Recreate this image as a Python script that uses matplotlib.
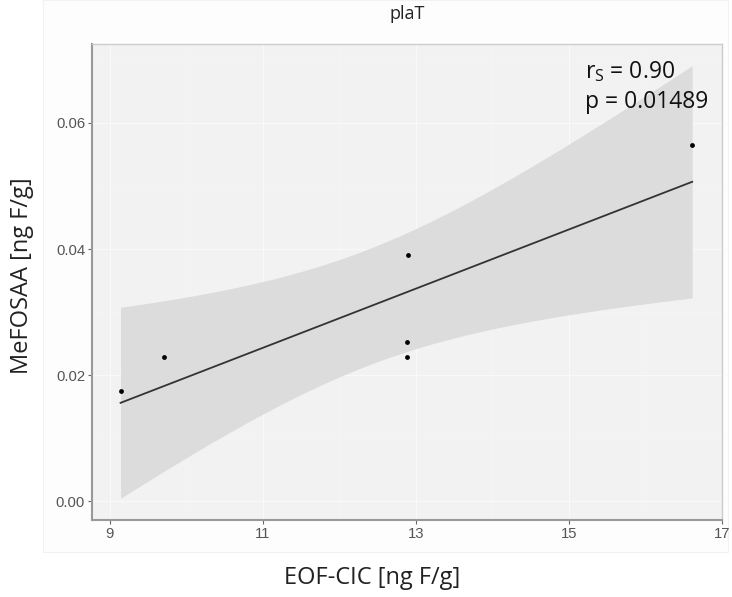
import numpy as np
import matplotlib
matplotlib.use("Agg")
import matplotlib.pyplot as plt
from matplotlib.patches import Rectangle

# data
eof_cic = np.array([9.14, 9.705, 12.89, 12.88, 12.88, 16.61])
mefosaa = np.array([0.01751, 0.02297, 0.03905, 0.02519, 0.02286, 0.05651])
x_ticks = [9, 11, 13, 15, 17]
y_ticks = [0.00, 0.02, 0.04, 0.06]
title = "plaT"
rs_text = "r$_\\mathrm{S}$ = 0.90"
p_text = "p = 0.01489"

plt.rcParams['font.family'] = ['Open Sans', 'DejaVu Sans']
plt.rcParams['mathtext.fontset'] = 'custom'
plt.rcParams['mathtext.rm'] = 'Open Sans'

# linear fit with 95% confidence band (like geom_smooth(method='lm'))
n = len(eof_cic)
slope, intercept = np.polyfit(eof_cic, mefosaa, 1)
xs = np.linspace(eof_cic.min(), eof_cic.max(), 80)
ys = intercept + slope * xs
resid = mefosaa - (intercept + slope * eof_cic)
s = np.sqrt(np.sum(resid**2) / (n - 2))
sxx = np.sum((eof_cic - eof_cic.mean())**2)
se = s * np.sqrt(1/n + (xs - eof_cic.mean())**2 / sxx)
t975 = 2.776445  # t quantile, df = 4
lo = ys - t975 * se
hi = ys + t975 * se

fig = plt.figure(figsize=(7.32, 5.97), dpi=100)
# faint outer plot area from the pasted ggplot image
fig.patches.append(Rectangle((43/732, 1-552/597), 685/732, 552/597, transform=fig.transFigure,
                             facecolor='#fdfdfd', edgecolor='#f2f2f2', lw=0.8, zorder=-1))
ax = fig.add_axes([92/732, 1-520/597, 630/732, 476/597])
ax.set_facecolor('#f2f2f2')

ax.fill_between(xs, lo, hi, color='#dcdcdc', lw=0, zorder=2)
ax.plot(xs, ys, color='#333333', lw=1.3, zorder=3)
ax.scatter(eof_cic, mefosaa, s=12, color='black', zorder=4, lw=0)

xr = eof_cic.max() - eof_cic.min()
ax.set_xlim(eof_cic.min() - 0.05*xr, eof_cic.max() + 0.05*xr)
ymin, ymax = min(lo.min(), mefosaa.min()), max(hi.max(), mefosaa.max())
yr = ymax - ymin
ax.set_ylim(ymin - 0.05*yr, ymax + 0.05*yr)

ax.set_xticks(x_ticks)
ax.set_xticks([10, 12, 14, 16], minor=True)
ax.set_yticks(y_ticks)
ax.set_yticks([0.01, 0.03, 0.05, 0.07], minor=True)
ax.set_yticklabels([f"{v:.2f}" for v in y_ticks])
ax.grid(True, which='major', color='#f9f9f9', lw=0.9, zorder=1)
ax.grid(True, which='minor', color='#f6f6f6', lw=0.5, zorder=1)
ax.set_axisbelow(True)

ax.tick_params(which='major', length=3, width=0.8, color='#666666', labelcolor='#555555',
               labelsize=10.7, pad=2)
ax.tick_params(which='minor', length=0)
for lab in ax.get_xticklabels() + ax.get_yticklabels():
    lab.set_family(['Liberation Sans', 'DejaVu Sans'])

for side in ['left', 'bottom']:
    ax.spines[side].set_color('#999999')
    ax.spines[side].set_linewidth(1.5)
for side in ['top', 'right']:
    ax.spines[side].set_color('#cccccc')
    ax.spines[side].set_linewidth(1.0)

ax.text(15.21, 0.0681, rs_text, fontsize=16.5, color='#111111', va='center', ha='left', zorder=5)
ax.text(15.21, 0.0633, p_text, fontsize=16.5, color='#111111', va='center', ha='left', zorder=5)

fig.text(407/732, 1-14/597, title, ha='center', va='center', fontsize=13, color='#222222')
fig.text(22/732, 1-276/597, "MeFOSAA [ng F/g]", rotation=90, ha='center', va='center',
         fontsize=17, color='#222222')
fig.text(372/732, 1-578/597, "EOF-CIC [ng F/g]", ha='center', va='center',
         fontsize=17, color='#222222')

fig.savefig("out.png", dpi=100)
